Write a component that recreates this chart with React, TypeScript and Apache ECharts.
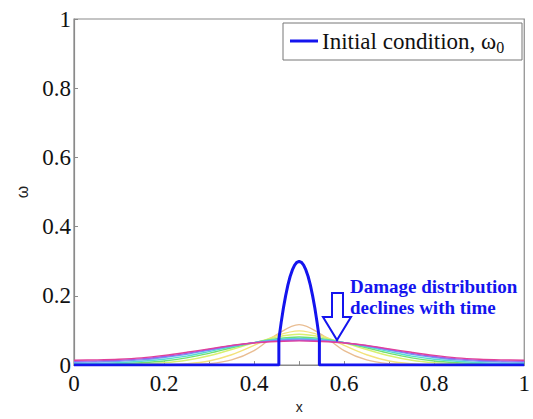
import React, { useEffect, useRef } from "react";
import * as echarts from "echarts";

const xGrid = [0, 0.05, 0.1, 0.15, 0.2, 0.25, 0.3, 0.35, 0.4, 0.45, 0.5, 0.55, 0.6, 0.65, 0.7, 0.75, 0.8, 0.85, 0.9, 0.95, 1];

const tan = [0, 0, 0, 0, 0, 0.001, 0.004, 0.015, 0.042, 0.088, 0.117, 0.088, 0.042, 0.015, 0.004, 0.001, 0, 0, 0, 0, 0];
const yellow = [0, 0, 0, 0, 0.001, 0.004, 0.012, 0.03, 0.057, 0.085, 0.099, 0.085, 0.057, 0.03, 0.012, 0.004, 0.001, 0, 0, 0, 0];
const yGreen = [0.001, 0.001, 0.002, 0.004, 0.007, 0.014, 0.027, 0.045, 0.064, 0.081, 0.089, 0.081, 0.064, 0.045, 0.027, 0.014, 0.007, 0.004, 0.002, 0.001, 0.001];
const green = [0.003, 0.003, 0.004, 0.007, 0.012, 0.021, 0.034, 0.05, 0.065, 0.076, 0.081, 0.076, 0.065, 0.05, 0.034, 0.021, 0.012, 0.007, 0.004, 0.003, 0.003];
const cyan = [0.005, 0.005, 0.007, 0.011, 0.017, 0.026, 0.039, 0.053, 0.065, 0.074, 0.077, 0.074, 0.065, 0.053, 0.039, 0.026, 0.017, 0.011, 0.007, 0.005, 0.005];
const blue = [0.008, 0.009, 0.011, 0.015, 0.022, 0.031, 0.043, 0.055, 0.065, 0.072, 0.075, 0.072, 0.065, 0.055, 0.043, 0.031, 0.022, 0.015, 0.011, 0.009, 0.008];
const magenta = [0.011, 0.012, 0.014, 0.018, 0.025, 0.034, 0.045, 0.056, 0.065, 0.07, 0.072, 0.07, 0.065, 0.056, 0.045, 0.034, 0.025, 0.018, 0.014, 0.012, 0.011];
const red = [0.014, 0.015, 0.017, 0.021, 0.028, 0.037, 0.047, 0.057, 0.064, 0.068, 0.07, 0.068, 0.064, 0.057, 0.047, 0.037, 0.028, 0.021, 0.017, 0.015, 0.014];

const laterCurves = [tan, yellow, yGreen, green, cyan, blue, magenta, red];
const laterColors = ["#e9bd92", "#f3e27a", "#d8f070", "#70e070", "#55dcd0", "#6aa8f0", "#9a60f0", "#e0409a"];

const initX = [0, 0.455, 0.455, 0.46, 0.465, 0.47, 0.475, 0.48, 0.485, 0.49, 0.495, 0.5, 0.505, 0.51, 0.515, 0.52, 0.525, 0.53, 0.535, 0.54, 0.545, 0.545, 1];
const initY = [0, 0, 0.075, 0.122, 0.164, 0.2, 0.231, 0.256, 0.275, 0.289, 0.297, 0.3, 0.297, 0.289, 0.275, 0.256, 0.231, 0.2, 0.164, 0.122, 0.075, 0, 0];

const xTicks = [0, 0.2, 0.4, 0.6, 0.8, 1];
const legendName = "Initial condition";
const legendText = "Initial condition, ω";
const legendSub = "0";
const noteLines = ["Damage distribution", "declines with time"];

const AXIS = "#8a8a8a";
const SERIF = "Liberation Serif";
const BLUE = "#1414ee";

export default function App() {
  const ref = useRef<HTMLDivElement>(null);
  useEffect(() => {
    const chart = echarts.init(ref.current!, null, { renderer: "svg" });
    const xFmt = (v: number) => {
      const r = Math.round(v * 10) / 10;
      return xTicks.includes(r) ? String(r) : "";
    };
    const series: any[] = laterCurves.map((c, i) => ({
      type: "line",
      name: "t" + i,
      data: c.map((v, j) => [xGrid[j], v]),
      smooth: 0.35,
      showSymbol: false,
      lineStyle: { color: laterColors[i], width: 1.4 },
      itemStyle: { color: laterColors[i] },
      z: 2 + i,
    }));
    series.push({
      type: "line",
      name: legendName,
      data: initX.map((x, j) => [x, initY[j]]),
      showSymbol: false,
      lineStyle: { color: BLUE, width: 3 },
      itemStyle: { color: BLUE },
      z: 20,
    });
    chart.setOption({
      animation: false,
      backgroundColor: "#ffffff",
      grid: { left: 74, right: 8, top: 19, bottom: 45, containLabel: false, show: true, borderColor: AXIS, borderWidth: 1.2 },
      xAxis: {
        type: "value",
        min: 0,
        max: 1,
        interval: 0.1,
        name: "x",
        nameLocation: "middle",
        nameGap: 33,
        nameTextStyle: { fontSize: 14, color: "#222" },
        axisLine: { lineStyle: { color: AXIS, width: 1.2 } },
        axisTick: { inside: true, length: 4, lineStyle: { color: AXIS } },
        axisLabel: { formatter: xFmt, fontFamily: SERIF, fontSize: 23, color: "#111", margin: 7 },
        splitLine: { show: false },
      },
      yAxis: {
        type: "value",
        min: 0,
        max: 1,
        interval: 0.2,
        name: "ω",
        nameLocation: "middle",
        nameGap: 44,
        nameRotate: 90,
        nameTextStyle: { fontSize: 16, color: "#222" },
        axisLine: { show: true, lineStyle: { color: AXIS, width: 1.2 } },
        axisTick: { show: true, inside: true, length: 4, lineStyle: { color: AXIS } },
        axisLabel: { fontFamily: SERIF, fontSize: 23, color: "#111", margin: 3 },
        splitLine: { show: false },
      },
      series,
      graphic: [
        {
          type: "rect",
          shape: { x: 283, y: 23, width: 239, height: 37 },
          style: { fill: "#ffffff", stroke: "#777", lineWidth: 1 },
          z: 40,
        },
        {
          type: "line",
          shape: { x1: 290, y1: 41, x2: 318, y2: 41 },
          style: { stroke: BLUE, lineWidth: 3 },
          z: 41,
        },
        {
          type: "text",
          x: 322,
          y: 41,
          style: {
            text: "{t|" + legendText + "}{s|" + legendSub + "}",
            verticalAlign: "middle",
            rich: {
              t: { fontFamily: SERIF, fontSize: 23, fill: "#111" },
              s: { fontFamily: SERIF, fontSize: 16, fill: "#111", padding: [13, 0, 0, 0] },
            },
          },
          z: 41,
        },
        {
          type: "polygon",
          shape: {
            points: [
              [332, 293],
              [343, 293],
              [343, 317],
              [351, 317],
              [337, 340],
              [323, 317],
              [332, 317],
            ],
          },
          style: { fill: "none", stroke: BLUE, lineWidth: 2 },
          z: 30,
        },
        {
          type: "text",
          left: 350,
          top: 276,
          style: {
            text: noteLines.join("\n"),
            fontFamily: SERIF,
            fontWeight: "bold",
            fontSize: 19,
            lineHeight: 21,
            fill: BLUE,
          },
          z: 30,
        },
      ],
    });
    return () => chart.dispose();
  }, []);
  return <div ref={ref} style={{ position: "absolute", left: 0, top: 0, width: 533, height: 419 }} />;
}
